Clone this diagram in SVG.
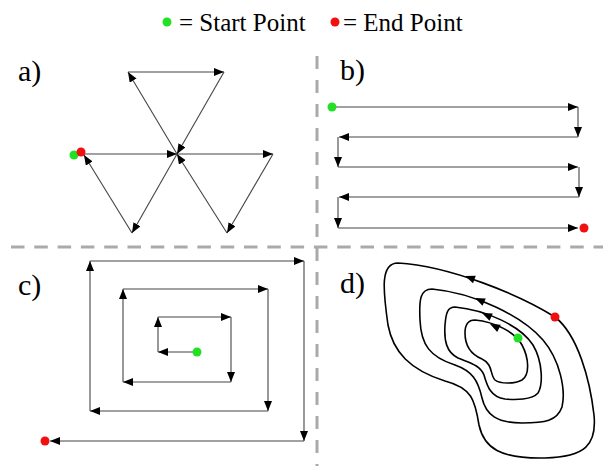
<svg xmlns="http://www.w3.org/2000/svg" width="603" height="466" viewBox="0 0 603 466">
<defs>
<marker id="arr" markerUnits="userSpaceOnUse" markerWidth="11" markerHeight="9" refX="10" refY="4" orient="auto">
<path d="M0,0 L10,4 L0,8 Z" fill="#000"/>
</marker>
<path id="ah" d="M0,0 L10,-4 L10,4 Z" fill="#000"/>
</defs>
<style>
.lbl{font-family:"Liberation Serif","Times New Roman",serif;font-size:30px;fill:#000}
.leg{font-family:"Liberation Serif","Times New Roman",serif;font-size:25px;fill:#000}
.ln{stroke:#444;stroke-width:1.1;fill:none;marker-end:url(#arr)}
.cv{stroke:#000;stroke-width:1.6;fill:none}
.div{stroke:#aaa;stroke-width:3;fill:none}
.g{fill:#22e022}
.r{fill:#f01010}
</style>
<rect width="603" height="466" fill="#fff"/>

<g id="legend">
<circle class="g" cx="167" cy="22" r="4.5"/>
<text class="leg" x="179" y="31">= Start Point</text>
<circle class="r" cx="335" cy="22" r="4.5"/>
<text class="leg" x="343" y="31">= End Point</text>
</g>

<g id="dividers">
<line class="div" x1="11" y1="247" x2="603" y2="247" stroke-dasharray="13.5 9.8"/>
<line class="div" x1="317" y1="56" x2="317" y2="466" stroke-dasharray="13 11"/>
</g>

<g id="panel-a">
<text class="lbl" x="18" y="81">a)</text>
<g id="connectors-a">
<line class="ln" x1="82" y1="154" x2="177" y2="154"/>
<line class="ln" x1="177" y1="154" x2="273" y2="154"/>
<line class="ln" x1="273" y1="154" x2="227" y2="233"/>
<line class="ln" x1="227" y1="233" x2="177" y2="154"/>
<line class="ln" x1="177" y1="154" x2="128" y2="72"/>
<line class="ln" x1="128" y1="72" x2="224" y2="72"/>
<line class="ln" x1="224" y1="72" x2="177" y2="154"/>
<line class="ln" x1="177" y1="154" x2="132" y2="233"/>
<line class="ln" x1="132" y1="233" x2="84" y2="155"/>
</g>
<circle class="g" cx="74" cy="155" r="4.5"/>
<circle class="r" cx="81" cy="152" r="4.5"/>
</g>

<g id="panel-b">
<text class="lbl" x="340" y="80">b)</text>
<g id="connectors-b">
<line class="ln" x1="332" y1="107" x2="578" y2="107"/>
<line class="ln" x1="578" y1="107" x2="578" y2="137"/>
<line class="ln" x1="578" y1="137" x2="339" y2="137"/>
<line class="ln" x1="338" y1="137" x2="338" y2="167"/>
<line class="ln" x1="338" y1="167" x2="578" y2="167"/>
<line class="ln" x1="579" y1="167" x2="579" y2="197"/>
<line class="ln" x1="579" y1="197" x2="339" y2="197"/>
<line class="ln" x1="338" y1="197" x2="338" y2="228"/>
<line class="ln" x1="338" y1="228" x2="578" y2="228"/>
</g>
<circle class="g" cx="332" cy="107" r="4.5"/>
<circle class="r" cx="584" cy="228" r="4.5"/>
</g>

<g id="panel-c">
<text class="lbl" x="18" y="295">c)</text>
<g id="connectors-c">
<line class="ln" x1="197" y1="352" x2="158" y2="352"/>
<line class="ln" x1="158" y1="352" x2="158" y2="317"/>
<line class="ln" x1="158" y1="317" x2="231" y2="317"/>
<line class="ln" x1="231" y1="317" x2="231" y2="382"/>
<line class="ln" x1="231" y1="382" x2="123" y2="382"/>
<line class="ln" x1="123" y1="382" x2="123" y2="289"/>
<line class="ln" x1="123" y1="289" x2="268" y2="289"/>
<line class="ln" x1="268" y1="289" x2="268" y2="411"/>
<line class="ln" x1="268" y1="411" x2="90" y2="411"/>
<line class="ln" x1="90" y1="411" x2="90" y2="261"/>
<line class="ln" x1="90" y1="261" x2="304" y2="261"/>
<line class="ln" x1="304" y1="261" x2="304" y2="441"/>
<line class="ln" x1="304" y1="441" x2="50" y2="441"/>
</g>
<circle class="g" cx="197" cy="352" r="4.5"/>
<circle class="r" cx="45" cy="441" r="4.5"/>
</g>

<g id="panel-d">
<text class="lbl" x="340" y="293">d)</text>
<g id="connectors-d">
<path class="cv" d="M398,263 C450,266 520,295 555,317 C578,335 590,380 594,415 C597,445 585,457 545,458 C500,459 484,448 479,425 C475,400 472,388 445,381 C410,370 393,352 388,325 C383,290 380,263 398,263 Z"/>
<path class="cv" d="M432,289 C475,293 522,316 543,340 C560,360 566,390 562,407 C557,421 545,423 522,423 C497,423 486,415 482,398 C478,380 472,371 455,365 C430,357 421,345 420,320 C419,300 420,289 432,289 Z"/>
<path class="cv" d="M455,307 C485,310 520,325 533,345 C543,362 543,385 538,393 C532,400 515,400 505,399 C490,397 487,385 484,375 C480,365 470,363 458,358 C446,352 444,340 445,325 C446,312 448,307 455,307 Z"/>
<path class="cv" d="M475,320 C495,322 515,332 522,345 C529,358 530,375 522,380 C515,384 500,384 495,380 C490,375 493,364 482,359 C470,354 465,345 465,333 C465,324 468,320 475,320 Z"/>
<use href="#ah" transform="translate(465,276) rotate(20)"/>
<use href="#ah" transform="translate(475,298) rotate(24)"/>
<use href="#ah" transform="translate(482,313) rotate(24)"/>
<use href="#ah" transform="translate(490,324) rotate(26)"/>
</g>
<circle class="r" cx="555" cy="317" r="4.5"/>
<circle class="g" cx="518" cy="338" r="4.5"/>
</g>
</svg>
